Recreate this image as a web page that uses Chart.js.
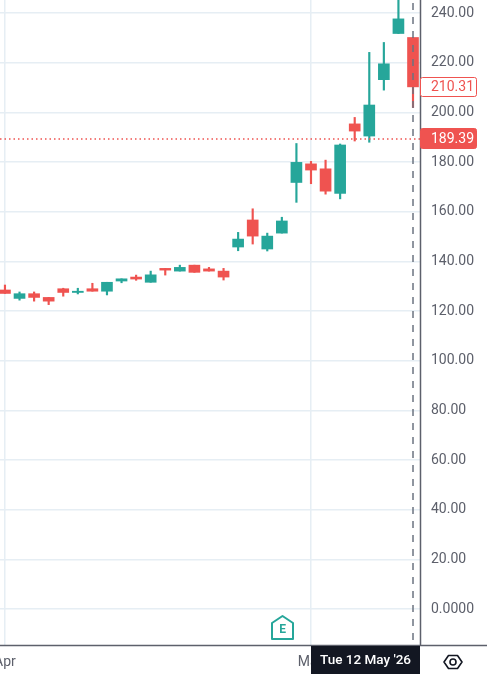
<!DOCTYPE html>
<html>
<head>
<meta charset="utf-8">
<script src="https://cdn.jsdelivr.net/npm/chart.js@4"></script>
<style>
  html, body { margin: 0; padding: 0; background: #fff; overflow: hidden; }
  canvas { display: block; }
</style>
</head>
<body>
<canvas id="chart" width="487" height="676"></canvas>
<script>
const dates = ["Wed 1 Apr '26", "Thu 2 Apr '26", "Mon 6 Apr '26", "Tue 7 Apr '26", "Wed 8 Apr '26", "Thu 9 Apr '26",
  "Fri 10 Apr '26", "Mon 13 Apr '26", "Tue 14 Apr '26", "Wed 15 Apr '26", "Thu 16 Apr '26", "Fri 17 Apr '26",
  "Mon 20 Apr '26", "Tue 21 Apr '26", "Wed 22 Apr '26", "Thu 23 Apr '26", "Fri 24 Apr '26", "Mon 27 Apr '26",
  "Tue 28 Apr '26", "Wed 29 Apr '26", "Thu 30 Apr '26", "Fri 1 May '26", "Mon 4 May '26", "Tue 5 May '26",
  "Wed 6 May '26", "Thu 7 May '26", "Fri 8 May '26", "Mon 11 May '26", "Tue 12 May '26"];
const opens = [128.5, 125.1, 127, 125.5, 129, 127.5, 129, 128, 132.1, 133.7, 131.6, 137.2, 136.1, 138.5, 137,
  136.1, 145.8, 156.7, 145, 151.4, 171.8, 179.3, 177.3, 167.4, 195.4, 190.5, 213.2, 231.8, 230.2];
const highs = [130.5, 127.7, 127.7, 125.5, 129.2, 129.2, 131.2, 131.6, 133, 134.5, 136.1, 137.2, 138.5, 138.5, 137.6,
  137.2, 151.7, 161.2, 151.4, 157.8, 187.5, 180.3, 180.8, 187.3, 198, 224.2, 228.2, 252, 230.2];
const lows = [127.1, 124.4, 124, 122.6, 126, 126.9, 128, 126.5, 131.4, 132.4, 131.6, 134.5, 136.1, 135.6, 136.1,
  132.5, 144.3, 147, 144.2, 151.4, 163.8, 171.3, 167.1, 165.2, 188.5, 188, 209, 231.8, 202];
const closes = [127.1, 127, 125.5, 124, 127.5, 128, 128, 131.6, 133, 132.9, 134.6, 136.5, 137.6, 135.6, 136.1,
  133.7, 149, 150.2, 150.2, 156.3, 179.9, 176.8, 168.3, 186.9, 192.5, 203, 219.6, 237.7, 210.31];
const tickIndexes = [0, 21];
const tickLabels = ["Apr", "May"];
const priceTicks = [0, 20, 40, 60, 80, 100, 120, 140, 160, 180, 200, 220, 240];
const lastPrice = 210.31;
const priceLine = 189.39;
const crosshairIndex = 28;

const UP = "#26a69a";
const DOWN = "#ef5350";
const GRID = "#e6eef4";
const AXIS = "#5d606b";
const TEXT = "#5d606b";
const FONT = "Roboto";

const colors = opens.map((o, i) => (closes[i] >= o ? UP : DOWN));
const wicks = lows.map((l, i) => ({ x: i, y: [l, highs[i]] }));
const bodies = opens.map((o, i) => ({ x: i, y: [Math.min(o, closes[i]), Math.max(o, closes[i])] }));

function tag(ctx, text, top, height, fill, border, color) {
  ctx.beginPath();
  ctx.roundRect(420.5, top + 0.5, 56, height, 2);
  ctx.fillStyle = fill;
  ctx.fill();
  ctx.strokeStyle = border;
  ctx.lineWidth = 1;
  ctx.stroke();
  ctx.fillStyle = color;
  ctx.font = "14px " + FONT;
  ctx.textAlign = "left";
  ctx.textBaseline = "middle";
  ctx.fillText(text, 431, top + height / 2 + 1);
}

const overlay = {
  id: "overlay",
  afterDatasetsDraw(chart) {
    const { ctx, chartArea: a, scales: { x, y } } = chart;
    ctx.save();
    // dotted price line
    ctx.strokeStyle = DOWN;
    ctx.lineWidth = 1.5;
    ctx.setLineDash([1.5, 3]);
    ctx.beginPath();
    ctx.moveTo(a.left, Math.round(y.getPixelForValue(priceLine)));
    ctx.lineTo(a.right, Math.round(y.getPixelForValue(priceLine)));
    ctx.stroke();
    // crosshair
    ctx.strokeStyle = "#6b7380";
    ctx.lineWidth = 1.5;
    ctx.setLineDash([7, 7]);
    ctx.beginPath();
    ctx.moveTo(x.getPixelForValue(crosshairIndex), 3);
    ctx.lineTo(x.getPixelForValue(crosshairIndex), a.bottom);
    ctx.stroke();
    ctx.restore();
  },
  afterDraw(chart) {
    const { ctx, chartArea: a, scales: { x, y } } = chart;
    ctx.save();
    // axis lines
    ctx.strokeStyle = AXIS;
    ctx.lineWidth = 1.5;
    ctx.beginPath();
    ctx.moveTo(0, a.bottom + 0.5);
    ctx.lineTo(487, a.bottom + 0.5);
    ctx.moveTo(a.right + 0.5, 0);
    ctx.lineTo(a.right + 0.5, a.bottom + 1);
    ctx.stroke();

    // price tags
    const lastY = y.getPixelForValue(lastPrice);
    const lineY = y.getPixelForValue(priceLine);
    tag(ctx, lastPrice.toFixed(2), Math.round(lastY) - 10, 19, "#fff", DOWN, DOWN);
    tag(ctx, priceLine.toFixed(2), Math.round(lineY) - 11, 20, DOWN, DOWN, "#fff");

    // date label under the crosshair
    ctx.fillStyle = "#131722";
    ctx.fillRect(x.getPixelForValue(21), a.bottom + 1, a.right - x.getPixelForValue(21), 28);
    ctx.fillStyle = "#fff";
    ctx.font = "500 13.5px " + FONT;
    ctx.textAlign = "center";
    ctx.textBaseline = "middle";
    ctx.fillText(dates[crosshairIndex], (x.getPixelForValue(21) + a.right) / 2, a.bottom + 16);

    // earnings marker
    ctx.strokeStyle = UP;
    ctx.lineWidth = 2;
    ctx.lineJoin = "round";
    ctx.beginPath();
    ctx.moveTo(272, 623);
    ctx.lineTo(282.5, 616);
    ctx.lineTo(293, 623);
    ctx.lineTo(293, 639);
    ctx.lineTo(272, 639);
    ctx.closePath();
    ctx.stroke();
    ctx.fillStyle = UP;
    ctx.font = "bold 12px " + FONT;
    ctx.fillText("E", 282.5, 630);

    // settings icon
    ctx.strokeStyle = "#131722";
    ctx.lineWidth = 1.6;
    ctx.beginPath();
    ctx.moveTo(444, 662);
    ctx.lineTo(448.5, 655.5);
    ctx.lineTo(457.5, 655.5);
    ctx.lineTo(462, 662);
    ctx.lineTo(457.5, 668.5);
    ctx.lineTo(448.5, 668.5);
    ctx.closePath();
    ctx.stroke();
    ctx.beginPath();
    ctx.arc(453, 662, 3, 0, Math.PI * 2);
    ctx.stroke();
    ctx.restore();
  },
};

new Chart(document.getElementById("chart"), {
  type: "bar",
  data: {
    datasets: [
      {
        label: "Body",
        data: bodies,
        backgroundColor: colors,
        barThickness: 11,
        grouped: false,
        order: 1,
      },
      {
        label: "Wick",
        data: wicks,
        backgroundColor: colors,
        barThickness: 1.5,
        grouped: false,
        order: 2,
      },
    ],
  },
  options: {
    responsive: false,
    animation: false,
    devicePixelRatio: 1,
    layout: { padding: 0 },
    plugins: { legend: { display: false }, tooltip: { enabled: false } },
    scales: {
      x: {
        type: "linear",
        offset: false,
        min: -0.34,
        max: 28.48,
        grid: { color: GRID, lineWidth: 1.5, offset: false, drawTicks: false },
        border: { display: false },
        afterBuildTicks: (axis) => {
          axis.ticks = tickIndexes.map((v) => ({ value: v }));
        },
        afterFit: (axis) => {
          axis.height = 31;
          axis.paddingLeft = 0;
          axis.paddingRight = 0;
        },
        ticks: {
          autoSkip: false,
          maxRotation: 0,
          padding: 9,
          color: TEXT,
          font: { family: FONT, size: 14 },
          callback: (v) => tickLabels[tickIndexes.indexOf(v)],
        },
      },
      y: {
        position: "right",
        min: -14.5,
        max: 245.3,
        grid: { color: GRID, lineWidth: 1.5, drawTicks: false },
        border: { display: false },
        afterBuildTicks: (axis) => {
          axis.ticks = priceTicks.map((v) => ({ value: v }));
        },
        afterFit: (axis) => {
          axis.width = 67;
          axis.paddingTop = 0;
          axis.paddingBottom = 0;
        },
        ticks: {
          autoSkip: false,
          padding: 11,
          color: TEXT,
          font: { family: FONT, size: 14 },
          callback: (v) => (v === 0 ? "0.0000" : v.toFixed(2)),
        },
      },
    },
  },
  plugins: [overlay],
});
</script>
</body>
</html>
